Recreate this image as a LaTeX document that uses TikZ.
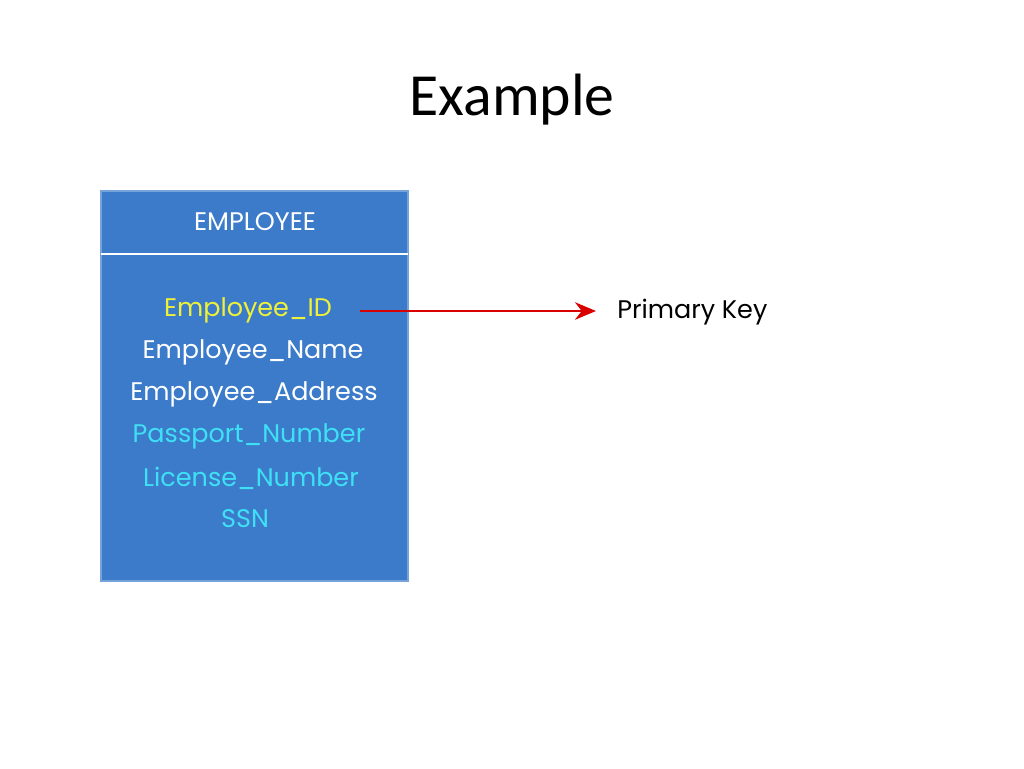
\documentclass[tikz,border=0pt]{standalone}
\usepackage{fontspec}
\setmainfont{Carlito}
\newfontfamily\boxfont{Poppins}
\usetikzlibrary{arrows.meta}
\definecolor{boxblue}{HTML}{3B7BC9}
\definecolor{idyellow}{HTML}{EEF03A}
\definecolor{keycyan}{HTML}{3FE0F5}
\tikzset{
  attr/.style={font=\boxfont\fontsize{14.5}{16}\selectfont, inner sep=0pt},
}
\begin{document}
\begin{tikzpicture}[x=0.02cm,y=-0.02cm]
\useasboundingbox (0,0) rectangle (1024,768);
\node (title) at (512,100) {\fontsize{34}{40}\selectfont Example};
\draw [draw=boxblue!70!white, fill=boxblue, line width=0.6pt] (101,191) rectangle (408,581);
\draw [white, line width=1.2pt] (101,254) -- (408,254);
\node [attr, white] (head) at (255,222) {EMPLOYEE};
\node [attr, idyellow] (id) at (248,310) {Employee\_ID};
\node [attr, white] (name) at (253,352) {Employee\_Name};
\node [attr, white] (addr) at (254,394) {Employee\_Address};
\node [attr, keycyan] (pass) at (249,436) {Passport\_Number};
\node [attr, keycyan] (lic) at (251,478) {License\_Number};
\node [attr, keycyan] (ssn) at (245,519) {SSN};
\node [attr, black, anchor=west] (pk) at (617,312) {Primary Key};
\draw [red!85!black, line width=1.2pt, -{Stealth[length=12pt,width=10pt]}] (360,311) -- (596,311);
\end{tikzpicture}
\end{document}
